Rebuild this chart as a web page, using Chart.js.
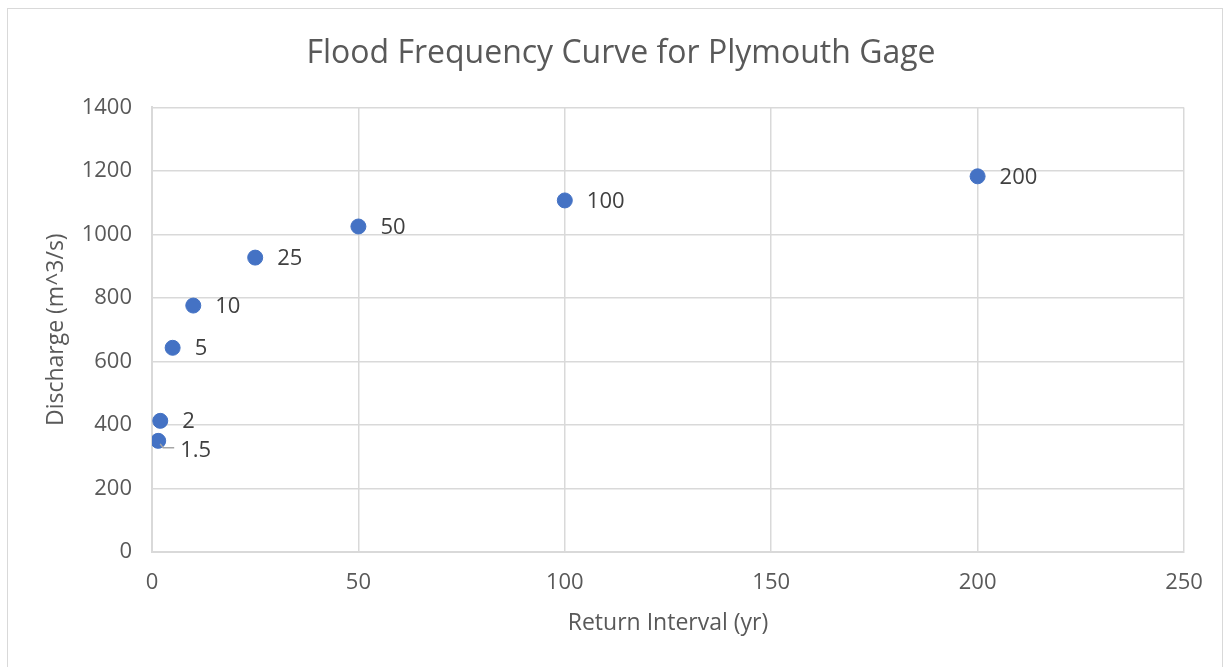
<!DOCTYPE html>
<html>
<head>
<meta charset="utf-8">
<script src="https://cdn.jsdelivr.net/npm/chart.js@4.4.0/dist/chart.umd.min.js"></script>
<style>
  body { margin: 0; background: #fff; }
  #frame { position: absolute; left: 7px; top: 8px; width: 1216px; height: 670px; border: 1px solid #d9d9d9; box-sizing: border-box; }
  #chartFlood { position: absolute; left: 0; top: 0; }
</style>
</head>
<body>
<div id="frame"></div>
<canvas id="chartFlood" width="1225" height="667"></canvas>
<script>
// Datos
const returnInterval = [1.5, 2, 5, 10, 25, 50, 100, 200];
const discharge = [350, 413, 643, 776, 927, 1025, 1107, 1183];
const pointLabels = ["1.5", "2", "5", "10", "25", "50", "100", "200"];

const FONT = "'Open Sans', sans-serif";

// etiquetas al lado de cada punto (el 1.5 va abajo con linea guia)
const labelPlugin = {
	id: 'pointLabels',
	afterDatasetsDraw(chart) {
		const ctx = chart.ctx;
		const meta = chart.getDatasetMeta(0);
		ctx.save();
		ctx.font = "22px " + FONT;
		ctx.fillStyle = '#404040';
		ctx.textBaseline = 'middle';
		ctx.textAlign = 'left';
		meta.data.forEach((pt, i) => {
			if (pointLabels[i] === "1.5") {
				ctx.strokeStyle = '#a6a6a6';
				ctx.lineWidth = 1.5;
				ctx.beginPath();
				ctx.moveTo(pt.x + 2, pt.y + 3);
				ctx.lineTo(pt.x + 5, pt.y + 7);
				ctx.lineTo(pt.x + 16, pt.y + 7);
				ctx.stroke();
				ctx.fillText(pointLabels[i], pt.x + 22, pt.y + 10);
			} else {
				ctx.fillText(pointLabels[i], pt.x + 22, pt.y + 1);
			}
		});
		ctx.restore();
	}
};

const chartFlood = new Chart(
	document.getElementById('chartFlood'),
	{
		type: 'scatter',
		data: {
			datasets: [{
				data: returnInterval.map((x, i) => ({x: x, y: discharge[i]})),
				backgroundColor: '#4472c4',
				borderColor: '#4472c4',
				pointRadius: 7.5,
				pointHoverRadius: 7.5,
			}]
		},
		options: {
			responsive: false,
			animation: false,
			devicePixelRatio: 1,
			layout: {
				padding: {left: 58, right: 41, top: 0, bottom: 0}
			},
			plugins: {
				title: {
					display: true,
					text: 'Flood Frequency Curve for Plymouth Gage',
					color: '#595959',
					font: {family: FONT, size: 32, weight: 'normal'},
					padding: {top: 35, bottom: 34}
				},
				legend: {display: false},
				tooltip: {enabled: false}
			},
			scales: {
				x: {
					type: 'linear',
					min: 0,
					max: 250,
					ticks: {
						stepSize: 50,
						color: '#595959',
						font: {family: FONT, size: 22},
						padding: 18
					},
					grid: {color: '#d9d9d9', lineWidth: 1.5, drawTicks: false},
					border: {color: '#d9d9d9', width: 2},
					title: {
						display: true,
						text: 'Return Interval (yr)',
						color: '#595959',
						font: {family: FONT, size: 23},
						padding: {top: 0, bottom: 30}
					},
					afterFit(scale) { scale.height = 115; }
				},
				y: {
					min: 0,
					max: 1400,
					ticks: {
						stepSize: 200,
						color: '#595959',
						font: {family: FONT, size: 22},
						padding: 20,
						callback: (v) => String(v)
					},
					grid: {color: '#d9d9d9', lineWidth: 1.5, drawTicks: false},
					border: {color: '#d9d9d9', width: 2},
					title: {
						display: true,
						text: 'Discharge (m^3/s)',
						color: '#595959',
						font: {family: FONT, size: 23},
						padding: {top: -15, bottom: 0}
					},
					afterFit(scale) { scale.width = 94; }
				}
			}
		},
		plugins: [labelPlugin]
	}
);
</script>
</body>
</html>
